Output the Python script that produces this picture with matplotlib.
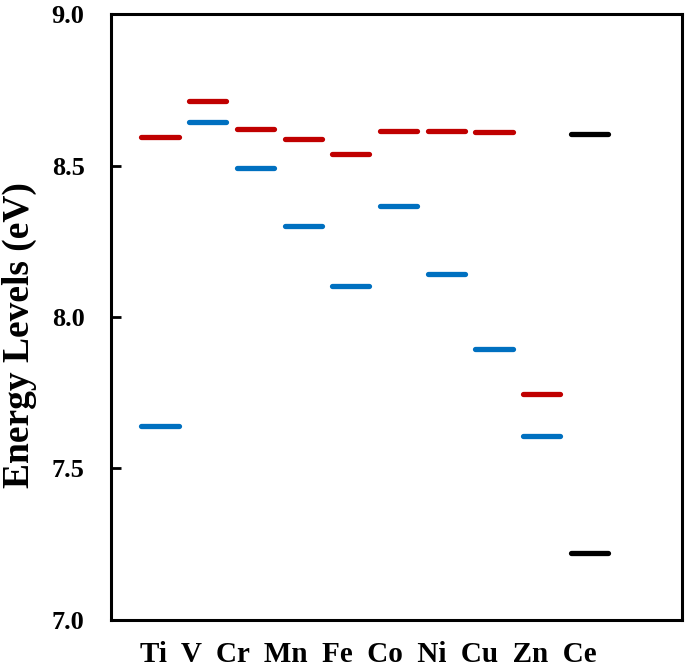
import matplotlib
matplotlib.use("Agg")
import matplotlib.pyplot as plt
import numpy as np

plt.rcParams['font.family'] = ['Liberation Serif', 'DejaVu Serif']
plt.rcParams['font.weight'] = 'bold'

elements = ["Ti", "V", "Cr", "Mn", "Fe", "Co", "Ni", "Cu", "Zn", "Ce"]
red_levels = [8.593, 8.712, 8.619, 8.587, 8.538, 8.615, 8.615, 8.611, 7.746, None]
blue_levels = [7.640, 8.643, 8.492, 8.301, 8.102, 8.365, 8.142, 7.895, 7.608, None]
black_levels = [None, None, None, None, None, None, None, None, None, 8.603]
black_levels2 = [None, None, None, None, None, None, None, None, None, 7.222]
yticks = [7.0, 7.5, 8.0, 8.5, 9.0]

fig = plt.figure(figsize=(6.85, 6.68), dpi=100)
ax = fig.add_axes([0.162, 0.0719, 0.8336, 0.9071])

x = np.arange(len(elements))
hw = 0.39
lw = 3.8

def draw(levels, color):
    for xi, v in zip(x, levels):
        if v is None:
            continue
        ax.plot([xi - hw, xi + hw], [v, v], color=color, lw=lw,
                solid_capstyle='round')

draw(red_levels, '#C00000')
draw(blue_levels, '#0070C0')
draw(black_levels, '#000000')
draw(black_levels2, '#000000')

ax.set_xlim(-1.027, 10.94)
ax.set_ylim(7.0, 9.0)
ax.set_yticks(yticks)
ax.set_yticklabels([f"{t:.1f}" for t in yticks])
ax.tick_params(axis='y', direction='in', length=7, width=2, pad=19,
               labelsize=19)
for lab in ax.get_yticklabels():
    lab.set_fontweight('bold')

# category labels: one row of words as in the original figure
ax.set_xticks([])
fig.text(0.2044, 0.0405, "  ".join(elements), ha='left', va='top',
         fontsize=21, fontweight='bold')

for s in ax.spines.values():
    s.set_linewidth(2.2)

ax.set_ylabel("Energy Levels (eV)", fontsize=27, fontweight='bold')
ax.yaxis.set_label_coords(-0.130, 0.47)

fig.savefig("out.png", dpi=100)
